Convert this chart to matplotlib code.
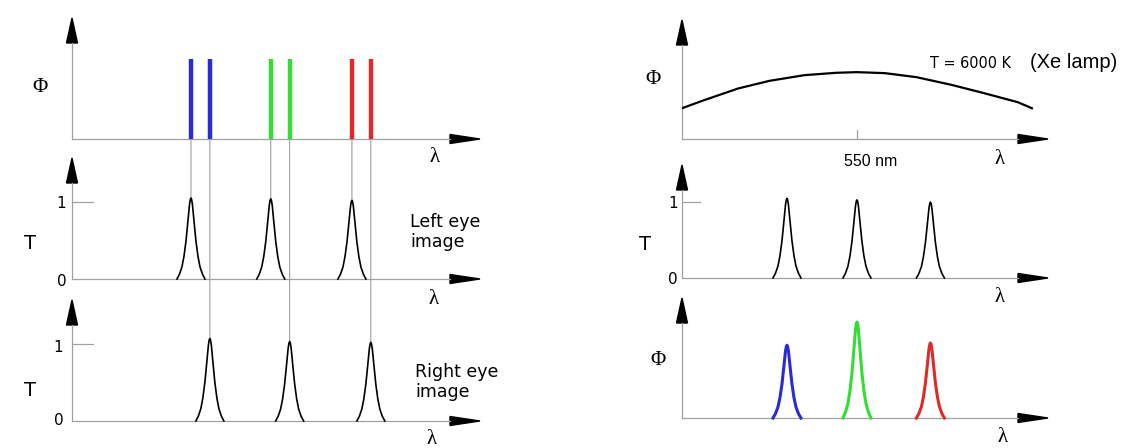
import numpy as np
import matplotlib
matplotlib.use("Agg")
import matplotlib.pyplot as plt
from matplotlib.patches import Polygon, ConnectionPatch

W, H = 1135, 448

# left side: two laser triplets and the two eye filters
left_eye_nm = [420, 534, 650]
right_eye_nm = [447, 561, 677]
laser_phi = [1.0, 1.0, 1.0]
left_T_peak = [1.05, 1.04, 1.02]
right_T_peak = [1.07, 1.03, 1.02]
rgb = ['#2b2bd6', '#33dd33', '#e02a2a']

# one filter peak (offset in nm, relative height)
peak_dx = [-20, -16.4, -12.9, -10, -7.1, -4.3, -2.1, -0.9, 0, 0.9, 2.1, 4.3, 7.1, 10, 12.9, 16.4, 20]
peak_shape = [0, 0.06, 0.15, 0.28, 0.47, 0.72, 0.92, 0.985, 1.0, 0.985, 0.92, 0.72, 0.47, 0.28, 0.15, 0.06, 0]

# right side: Xe lamp, filter and filtered output
lamp_nm = [300, 330, 380, 425, 475, 520, 550, 590, 635, 685, 730, 780, 800]
lamp_phi = [0.46, 0.575, 0.755, 0.87, 0.955, 0.99, 1.0, 0.985, 0.925, 0.81, 0.69, 0.55, 0.46]
filter_nm = [450, 550, 655]
filter_T = [1.05, 1.03, 1.0]
out_phi = [0.97, 1.28, 1.0]

AXIS_GRAY = '#a0a0a0'
SERIF = ['Liberation Serif', 'DejaVu Serif']
SANS = ['DejaVu Sans']
ARIAL = ['Liberation Sans', 'DejaVu Sans']

fig = plt.figure(figsize=(W / 100, H / 100), dpi=100)


def px_axes(x0, x1, ytop, ybot, xlim, ylim):
    ax = fig.add_axes([x0 / W, 1 - ybot / H, (x1 - x0) / W, (ybot - ytop) / H])
    ax.set_axis_off()
    ax.set_xlim(*xlim)
    ax.set_ylim(*ylim)
    wpx, hpx = x1 - x0, ybot - ytop
    hx, wx = 30, 9     # x arrow head length / height in px
    hy, wy = 25, 11    # y arrow head length / width in px
    ax.plot([0, 1 - hx / wpx], [0, 0], transform=ax.transAxes, color=AXIS_GRAY, lw=0.9, clip_on=False)
    ax.plot([0, 0], [0, 1 - hy / hpx], transform=ax.transAxes, color=AXIS_GRAY, lw=0.9, clip_on=False)
    ax.add_patch(Polygon([[1 - hx / wpx, -wx / 2 / hpx], [1, 0], [1 - hx / wpx, wx / 2 / hpx]],
                         closed=True, transform=ax.transAxes, color='k', clip_on=False))
    ax.add_patch(Polygon([[-wy / 2 / wpx, 1 - hy / hpx], [0, 1], [wy / 2 / wpx, 1 - hy / hpx]],
                         closed=True, transform=ax.transAxes, color='k', clip_on=False))
    return ax


def ftext(x, y, s, **kw):
    kw.setdefault('ha', 'center')
    kw.setdefault('va', 'center')
    fig.text(x / W, 1 - y / H, s, **kw)


def peak(ax, center, height, **kw):
    ax.plot(np.array(peak_dx) + center, np.array(peak_shape) * height, clip_on=False,
            solid_joinstyle='round', **kw)


# ---- left column ----
ax_l1 = px_axes(72, 480, 18, 139, (250, 833), (0, 1.51))
ax_l2 = px_axes(72, 480, 158, 279, (250, 833), (0, 1.57))
ax_l3 = px_axes(72, 480, 300, 421, (250, 833), (0, 1.57))

for wl_a, wl_b, c in zip(left_eye_nm, right_eye_nm, rgb):
    ax_l1.vlines([wl_a, wl_b], 0, laser_phi[0], color=c, lw=3.2)

for wl, h in zip(left_eye_nm, left_T_peak):
    peak(ax_l2, wl, h, color='k', lw=1.2)
    fig.add_artist(ConnectionPatch(xyA=(wl, 0), coordsA=ax_l1.transData, xyB=(wl, h),
                                   coordsB=ax_l2.transData, color='#909090', lw=0.7, zorder=-1))
for wl, h in zip(right_eye_nm, right_T_peak):
    peak(ax_l3, wl, h, color='k', lw=1.2)
    fig.add_artist(ConnectionPatch(xyA=(wl, 0), coordsA=ax_l1.transData, xyB=(wl, h),
                                   coordsB=ax_l3.transData, color='#909090', lw=0.7, zorder=-1))

for ax in (ax_l2, ax_l3):
    ax.plot([250, 280], [1, 1], color=AXIS_GRAY, lw=0.9)

ftext(40, 88, 'Φ', family=SERIF, fontsize=15)
ftext(435, 158, 'λ', family=SERIF, fontsize=15)
ftext(30, 243, 'T', family=SANS, fontsize=14)
ftext(61, 203, '1', family=SANS, fontsize=11)
ftext(62, 281, '0', family=SANS, fontsize=11)
ftext(434, 299, 'λ', family=SERIF, fontsize=15)
ftext(410, 232, 'Left eye\nimage', family=SANS, fontsize=12.5, ha='left', linespacing=1.1)
ftext(30, 390, 'T', family=SANS, fontsize=14)
ftext(58, 347, '1', family=SANS, fontsize=11)
ftext(59, 420, '0', family=SANS, fontsize=11)
ftext(432, 439, 'λ', family=SERIF, fontsize=15)
ftext(415, 382, 'Right eye\nimage', family=SANS, fontsize=12.5, ha='left', linespacing=1.1)

# ---- right column ----
ax_r1 = px_axes(682, 1048, 20, 139, (300, 823), (0, 1.78))
ax_r2 = px_axes(682, 1048, 165, 278, (300, 823), (0, 1.49))
ax_r3 = px_axes(682, 1048, 298, 418, (300, 823), (0, 1.6))

ax_r1.plot(lamp_nm, lamp_phi, color='k', lw=1.6, solid_joinstyle='round')
ax_r1.plot([550, 550], [0, 0.13], color=AXIS_GRAY, lw=0.9)

for wl, h in zip(filter_nm, filter_T):
    peak(ax_r2, wl, h, color='k', lw=1.2)
ax_r2.plot([300, 326], [1, 1], color=AXIS_GRAY, lw=0.9)

for wl, h, c in zip(filter_nm, out_phi, rgb):
    peak(ax_r3, wl, h, color=c, lw=2.2)

ftext(653, 79, 'Φ', family=SERIF, fontsize=15)
ftext(971, 63, 'T = 6000 K', family=SANS, fontstretch='condensed', fontsize=11.5)
ftext(1074, 63, '(Xe lamp)', family=ARIAL, fontsize=14.5)
ftext(871, 161, '550 nm', family=ARIAL, fontsize=11.5)
ftext(1000, 159, 'λ', family=SERIF, fontsize=15)
ftext(645, 244, 'T', family=SANS, fontsize=14)
ftext(673, 204, '1', family=SANS, fontsize=11)
ftext(673, 280, '0', family=SANS, fontsize=11)
ftext(1000, 297, 'λ', family=SERIF, fontsize=15)
ftext(658, 360, 'Φ', family=SERIF, fontsize=15)
ftext(1003, 437, 'λ', family=SERIF, fontsize=15)

fig.savefig('out.png', dpi=100)
